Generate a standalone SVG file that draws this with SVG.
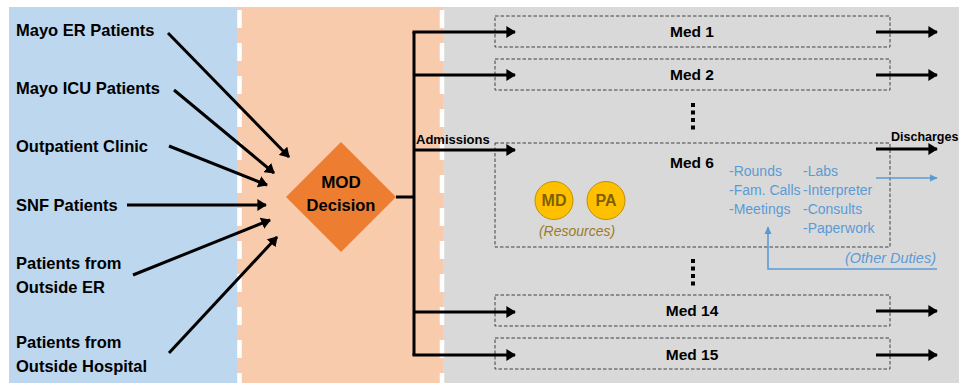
<svg xmlns="http://www.w3.org/2000/svg" width="959" height="383" viewBox="0 0 959 383">
<defs>
<style>
.lbl{font-family:"Liberation Sans",Arial,sans-serif;font-weight:bold;font-size:16.5px;fill:#000}
.med{font-family:"Liberation Sans",Arial,sans-serif;font-weight:bold;font-size:15.5px;fill:#000;text-anchor:middle}
.sm{font-family:"Liberation Sans",Arial,sans-serif;font-weight:bold;font-size:13px;fill:#000}
.duty{font-family:"Liberation Sans",Arial,sans-serif;font-size:14px;fill:#5B9BD5}
.box{fill:none;stroke:#404040;stroke-width:1;stroke-dasharray:3.5 2}
.ln{fill:none;stroke:#000;stroke-width:3}
.arr{fill:none;stroke:#000;stroke-width:3;marker-end:url(#ah)}
.barr{fill:none;stroke:#5B9BD5;stroke-width:1.6;marker-end:url(#bh)}
.sep{stroke:#fff;stroke-width:4.5;stroke-dasharray:18 15}
.res{fill:#FFC000;stroke:#BF9000;stroke-width:1}
.rest{font-family:"Liberation Sans",Arial,sans-serif;font-weight:bold;font-size:16px;fill:#7F6000;text-anchor:middle}
</style>
<marker id="ah" viewBox="0 0 10 10" refX="9" refY="5" markerWidth="3.2" markerHeight="4" orient="auto" markerUnits="strokeWidth" preserveAspectRatio="none">
<path d="M0,0 L10,5 L0,10 Z" fill="#000"/>
</marker>
<marker id="bh" viewBox="0 0 10 10" refX="9" refY="5" markerWidth="5" markerHeight="4.5" orient="auto" markerUnits="strokeWidth" preserveAspectRatio="none">
<path d="M0,0 L10,5 L0,10 Z" fill="#5B9BD5"/>
</marker>
</defs>
<rect x="0" y="0" width="959" height="383" fill="#fff"/>
<g id="panels">
<rect x="9" y="7" width="229" height="376" fill="#BDD7EE"/>
<rect x="237" y="7" width="206" height="376" fill="#F8CBAD"/>
<rect x="443" y="7" width="516" height="376" fill="#D9D9D9"/>
<line class="sep" x1="239.5" y1="10" x2="239.5" y2="383"/>
<line class="sep" x1="442" y1="10" x2="442" y2="383"/>
</g>
<g id="sources">
<text class="lbl" x="16" y="36">Mayo ER Patients</text>
<text class="lbl" x="16" y="94">Mayo ICU Patients</text>
<text class="lbl" x="16" y="152">Outpatient  Clinic</text>
<text class="lbl" x="16" y="211">SNF Patients</text>
<text class="lbl" x="16" y="269">Patients  from</text>
<text class="lbl" x="16" y="293">Outside  ER</text>
<text class="lbl" x="16" y="348">Patients  from</text>
<text class="lbl" x="16" y="372">Outside  Hospital</text>
</g>
<g id="mod-decision">
<polygon points="341,142 396,197 341,252 286,197" fill="#ED7D31"/>
<text class="med" x="341" y="188" style="font-size:17px">MOD</text>
<text class="med" x="341" y="211" style="font-size:16.5px">Decision</text>
</g>
<g id="med1">
<rect class="box" x="495" y="16" width="395" height="31"/>
<text class="med" x="692" y="37">Med 1</text>
</g>
<g id="med2">
<rect class="box" x="495" y="59" width="395" height="31"/>
<text class="med" x="692" y="80">Med 2</text>
</g>
<g id="ellipsis1">
<rect x="691" y="103" width="4" height="4"/>
<rect x="691" y="110.5" width="4" height="4"/>
<rect x="691" y="118" width="4" height="4"/>
<rect x="691" y="125.5" width="4" height="4"/>
</g>
<g id="med6">
<rect class="box" x="495" y="143" width="395" height="104"/>
<text class="med" x="692" y="168">Med 6</text>
<circle class="res" cx="554" cy="200.5" r="19"/>
<text class="rest" x="554" y="206">MD</text>
<circle class="res" cx="606" cy="200.5" r="19"/>
<text class="rest" x="606" y="206">PA</text>
<text x="577" y="236" text-anchor="middle" style="font-family:'Liberation Sans',Arial,sans-serif;font-style:italic;font-size:14px;fill:#9C7B28">(Resources)</text>
<text class="duty" x="729" y="176">-Rounds</text>
<text class="duty" x="729" y="195">-Fam. Calls</text>
<text class="duty" x="729" y="214">-Meetings</text>
<text class="duty" x="803" y="176">-Labs</text>
<text class="duty" x="803" y="195">-Interpreter</text>
<text class="duty" x="803" y="214">-Consults</text>
<text class="duty" x="803" y="233">-Paperwork</text>
</g>
<g id="ellipsis2">
<rect x="691" y="259" width="4" height="4"/>
<rect x="691" y="266.5" width="4" height="4"/>
<rect x="691" y="274" width="4" height="4"/>
<rect x="691" y="281.5" width="4" height="4"/>
</g>
<g id="med14">
<rect class="box" x="495" y="295" width="395" height="31"/>
<text class="med" x="692" y="316">Med 14</text>
</g>
<g id="med15">
<rect class="box" x="495" y="338" width="395" height="31"/>
<text class="med" x="692" y="360">Med 15</text>
</g>
<g id="connectors">
<line class="arr" x1="168" y1="33" x2="289" y2="157"/>
<line class="arr" x1="174" y1="90" x2="274" y2="173"/>
<line class="arr" x1="169" y1="146" x2="267" y2="185"/>
<line class="arr" x1="127" y1="205" x2="266" y2="205"/>
<line class="arr" x1="133" y1="275" x2="270" y2="220"/>
<line class="arr" x1="169" y1="353" x2="277" y2="237"/>
<polyline class="ln" points="396,197 414,197"/>
<line class="ln" x1="414" y1="32" x2="414" y2="355"/>
<line class="arr" x1="412.5" y1="32" x2="515" y2="32"/>
<line class="arr" x1="414" y1="75" x2="515" y2="75"/>
<line class="arr" x1="414" y1="150" x2="515" y2="150"/>
<line class="arr" x1="414" y1="312" x2="515" y2="312"/>
<line class="arr" x1="412.5" y1="355" x2="515" y2="355"/>
<line class="arr" x1="876" y1="32" x2="937" y2="32"/>
<line class="arr" x1="876" y1="75" x2="937" y2="75"/>
<line class="arr" x1="876" y1="149" x2="937" y2="149"/>
<line class="arr" x1="876" y1="311" x2="937" y2="311"/>
<line class="arr" x1="876" y1="355" x2="937" y2="355"/>
<line class="barr" x1="876" y1="178" x2="937" y2="178"/>
<polyline class="barr" points="937,269 768,269 768,227"/>
<text class="sm" x="416" y="144">Admissions</text>
<text class="sm" x="891" y="141" style="font-size:12.5px">Discharges</text>
<text x="936" y="263" text-anchor="end" style="font-family:'Liberation Sans',Arial,sans-serif;font-style:italic;font-size:14.5px;fill:#5B9BD5">(Other Duties)</text>
</g>
</svg>
